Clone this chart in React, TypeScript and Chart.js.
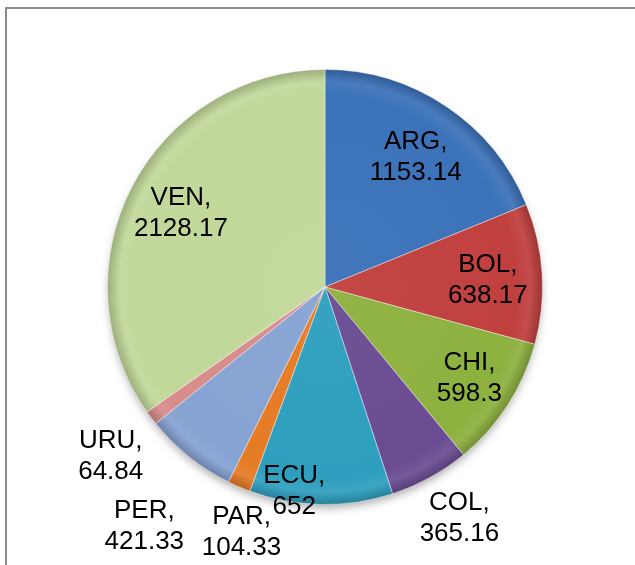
import React, { useEffect, useRef } from "react";
import { Chart, registerables } from "chart.js";

Chart.register(...registerables);

const categories = ["ARG", "BOL", "CHI", "COL", "ECU", "PAR", "PER", "URU", "VEN"];
const values = [1153.14, 638.17, 598.3, 365.16, 652, 104.33, 421.33, 64.84, 2128.17];
const valueLabels = ["1153.14", "638.17", "598.3", "365.16", "652", "104.33", "421.33", "64.84", "2128.17"];
const colors = ["#3b72b9", "#c0403e", "#8db13f", "#6b4c93", "#2e9fbe", "#e67b25", "#86a3d3", "#d88c8c", "#c2d89a"];

// label placement: radial factor and angular nudge (degrees)
const labelRadius = [0.735, 0.75, 0.78, 1.22, 0.94, 1.18, 1.37, 1.25, 0.75];
const labelShift = [0.7, 0.3, -1.2, -1.6, 7.6, -4.3, -1.4, -1, 0.5];

function shade(hex: string, f: number): string {
  const n = parseInt(hex.slice(1), 16);
  let r = (n >> 16) & 255, g = (n >> 8) & 255, b = n & 255;
  if (f >= 0) {
    r = Math.round(r + (255 - r) * f);
    g = Math.round(g + (255 - g) * f);
    b = Math.round(b + (255 - b) * f);
  } else {
    r = Math.round(r * (1 + f));
    g = Math.round(g * (1 + f));
    b = Math.round(b * (1 + f));
  }
  return `rgb(${r},${g},${b})`;
}

const labelPlugin = {
  id: "sliceLabels",
  afterDatasetsDraw(chart: any) {
    const ctx = chart.ctx;
    const meta = chart.getDatasetMeta(0);
    ctx.save();
    ctx.font = '26px "Liberation Sans", Arial, sans-serif';
    ctx.fillStyle = "#000";
    ctx.textAlign = "center";
    ctx.textBaseline = "alphabetic";
    meta.data.forEach((arc: any, i: number) => {
      const p = arc.getProps(["x", "y", "startAngle", "endAngle", "outerRadius"], true);
      const mid = (p.startAngle + p.endAngle) / 2 + (labelShift[i] * Math.PI) / 180;
      const d = p.outerRadius * labelRadius[i];
      const cx = p.x + Math.cos(mid) * d;
      const cy = p.y + Math.sin(mid) * d;
      ctx.fillText(categories[i] + ",", cx, cy - 6);
      ctx.fillText(valueLabels[i], cx, cy + 25);
    });
    ctx.restore();
  },
};

const shadowPlugin = {
  id: "pieShadow",
  beforeDatasetsDraw(chart: any) {
    const ctx = chart.ctx;
    const meta = chart.getDatasetMeta(0);
    const a = meta.data[0];
    if (!a) return;
    ctx.save();
    ctx.shadowColor = "rgba(0,0,0,0.35)";
    ctx.shadowBlur = 10;
    ctx.shadowOffsetY = 5;
    ctx.fillStyle = "#ffffff";
    ctx.beginPath();
    ctx.arc(a.x, a.y, a.outerRadius - 2, 0, Math.PI * 2);
    ctx.fill();
    ctx.restore();
  },
};

export default function App() {
  const ref = useRef<HTMLCanvasElement | null>(null);
  useEffect(() => {
    if (!ref.current) return;
    const chart = new Chart(ref.current, {
      type: "pie",
      data: {
        labels: categories,
        datasets: [
          {
            data: values,
            backgroundColor: (c: any) => {
              const i = c.dataIndex;
              const base = colors[i];
              const ch = c.chart;
              const area = ch.chartArea;
              if (!area) return base;
              const cx = (area.left + area.right) / 2;
              const cy = (area.top + area.bottom) / 2;
              const r = Math.min(area.right - area.left, area.bottom - area.top) / 2;
              const g = ch.ctx.createRadialGradient(cx, cy, 0, cx, cy, r);
              g.addColorStop(0, shade(base, 0.04));
              g.addColorStop(0.88, base);
              g.addColorStop(0.94, shade(base, 0.07));
              g.addColorStop(1, shade(base, -0.2));
              return g;
            },
            borderColor: "rgba(255,255,255,0.4)",
            borderWidth: 1,
          },
        ],
      },
      options: {
        responsive: false,
        animation: false,
        layout: { padding: { left: 107, right: 92, top: 69, bottom: 60 } },
        plugins: {
          legend: { display: false },
          tooltip: { enabled: false },
          title: { display: false },
        },
      },
      plugins: [shadowPlugin, labelPlugin],
    });
    return () => chart.destroy();
  }, []);

  return (
    <div style={{ position: "fixed", left: 0, top: 0, width: 635, height: 565, background: "#fff", overflow: "hidden" }}>
      <canvas ref={ref} width={635} height={565} style={{ position: "absolute", left: 0, top: 0 }} />
      <div
        style={{
          position: "absolute",
          left: 5,
          top: 7,
          width: 660,
          height: 600,
          border: "2px solid #8a8a8a",
          pointerEvents: "none",
        }}
      />
    </div>
  );
}
